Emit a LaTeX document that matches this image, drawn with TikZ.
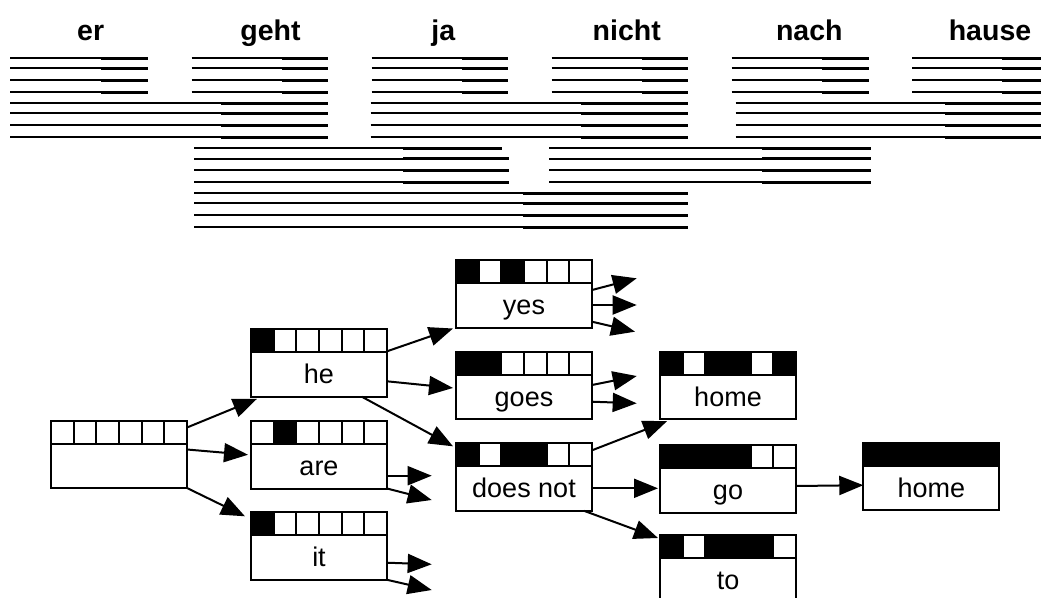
\documentclass[tikz,border=0pt]{standalone}
\usepackage{fontspec}
\setmainfont{Liberation Sans}
\usetikzlibrary{calc,arrows.meta}
\def\cw{22.667}
\def\hh{23}
\tikzset{
  boxline/.style={line width=2pt, line join=miter},
  hyp/.style={draw, line width=2pt, rectangle, minimum width=136pt, minimum height=67.5pt, inner sep=0pt, outer sep=0pt},
  lbl/.style={font=\fontsize{27}{30}\selectfont, inner sep=0pt},
  word/.style={font=\fontsize{28.5}{32}\selectfont\bfseries, inner sep=0pt},
  conn/.style={line width=2pt, -{Triangle[length=24pt,width=19pt]}},
  thinseg/.style={line width=2pt},
  thickseg/.style={line width=3pt},
}
\newcommand{\hypnode}[5]{%
  \node[hyp, anchor=north west] (#1) at (#2,#3) {};
  \foreach \c in {#4} {\ifnum\c>0 \fill ($(#1.north west)+({(\c-1)*\cw},0)$) rectangle ++(\cw,\hh);\fi}
  \foreach \c in {1,...,5} {\draw[boxline] ($(#1.north west)+({\c*\cw},0)$) -- ++(0,\hh);}
  \draw[boxline] ($(#1.north west)+(0,\hh)$) -- ++(136,0);
  \draw[boxline] (#1.north west) rectangle (#1.south east);
  \node[lbl, anchor=base] (#1-l) at ($(#1.north)+(0,54.5)$) {#5};
}
\newcommand{\seg}[4]{%
  \draw[thinseg] (#2,#1) -- (#3,#1);
  \draw[thickseg] (#3,#1) -- (#4,#1);
}
\begin{document}
\begin{tikzpicture}[x=1pt,y=-1pt]
\useasboundingbox (0,0) rectangle (1041,597);
\clip (0,0) rectangle (1041,597);
% words
\node[word, anchor=base] (w-er) at (90.7,40.7) {er};
\node[word, anchor=base] (w-geht) at (270.5,40.7) {geht};
\node[word, anchor=base] (w-ja) at (443.3,40.7) {ja};
\node[word, anchor=base] (w-nicht) at (626.7,40.7) {nicht};
\node[word, anchor=base] (w-nach) at (809.3,40.7) {nach};
\node[word, anchor=base] (w-hause) at (990,40.7) {hause};
% phrase lines
\foreach \y in {58.3,68.3,80,92} {
  \seg{\y}{10}{100.7}{147.7}
  \seg{\y}{191.7}{281.7}{328.3}
  \seg{\y}{371.7}{461.7}{508.3}
  \seg{\y}{551.7}{642.3}{688.3}
  \seg{\y}{731.7}{822.3}{869}
  \seg{\y}{912.3}{1002.3}{1045}
}
\foreach \y in {103,113.3,125.3,137} {
  \seg{\y}{10}{221}{328.3}
  \seg{\y}{370.7}{581}{688.3}
  \seg{\y}{735.7}{945}{1045}
}
\seg{148.3}{194.3}{403.3}{502.3}
\foreach \y in {158.7,170.3,182} {
  \seg{\y}{194.3}{403.3}{509.3}
}
\foreach \y in {148.3,158.7,170.3,182} {
  \seg{\y}{549}{762.3}{871}
}
\foreach \y in {193.3,203.3,215.3,227.3} {
  \seg{\y}{194.3}{522.7}{688.3}
}
% hypothesis boxes
\hypnode{start}{51}{420.5}{0}{}
\hypnode{he}{251}{329.3}{1}{he}
\hypnode{are}{251}{421}{2}{are}
\hypnode{it}{251}{512.3}{1}{it}
\hypnode{yes}{456}{260}{1,3}{yes}
\hypnode{goes}{456}{351.7}{1,2}{goes}
\hypnode{doesnot}{456}{443.3}{1,3,4}{does not}
\hypnode{homeA}{660}{351.7}{1,3,4,6}{home}
\hypnode{go}{660}{445}{1,2,3,4}{go}
\hypnode{to}{660}{535}{1,3,4,5}{to}
\hypnode{homeB}{863.3}{442.7}{1,2,3,4,5,6}{home}
% free ends
\coordinate (are-s1) at (431.7,475.7);
\coordinate (are-s2) at (431.7,500);
\coordinate (it-s1) at (431.7,564.3);
\coordinate (it-s2) at (431.7,590);
\coordinate (yes-s1) at (636.7,278.3);
\coordinate (yes-s2) at (636.7,305);
\coordinate (yes-s3) at (635,331.7);
\coordinate (goes-s1) at (636.7,376);
\coordinate (goes-s2) at (636.7,403.3);
% connectors
\draw[conn] ($(start.north east)+(0,7)$) -- ($(he.south west)+(6,2)$);
\draw[conn] ($(start.north east)+(0,29)$) -- ($(are.west)+(-3,0)$);
\draw[conn] (start.south east) -- ($(it.north west)+(-6,4)$);
\draw[conn] ($(he.north east)+(0,22)$) -- ($(yes.south west)+(-3,1)$);
\draw[conn] ($(he.north east)+(0,52)$) -- ($(goes.west)+(-3,2.5)$);
\draw[conn] ($(he.south east)+(-25,0)$) -- ($(doesnot.north west)+(-3,3)$);
\draw[conn] ($(are.north east)+(0,54.7)$) -- (are-s1);
\draw[conn] (are.south east) -- (are-s2);
\draw[conn] ($(it.north east)+(0,50.4)$) -- (it-s1);
\draw[conn] (it.south east) -- (it-s2);
\draw[conn] ($(yes.north east)+(0,30)$) -- (yes-s1);
\draw[conn] ($(yes.north east)+(0,45)$) -- (yes-s2);
\draw[conn] ($(yes.north east)+(0,61.7)$) -- (yes-s3);
\draw[conn] ($(goes.north east)+(0,33.3)$) -- (goes-s1);
\draw[conn] ($(goes.north east)+(0,50)$) -- (goes-s2);
\draw[conn] ($(doesnot.north east)+(0,7)$) -- ($(homeA.south west)+(7,2)$);
\draw[conn] ($(doesnot.north east)+(0,45)$) -- ($(go.north west)+(-2,43.3)$);
\draw[conn] ($(doesnot.south east)+(-8,0)$) -- ($(to.north west)+(-2,3)$);
\draw[conn] ($(go.north east)+(0,41)$) -- ($(homeB.north west)+(0,42.5)$);
\end{tikzpicture}
\end{document}
